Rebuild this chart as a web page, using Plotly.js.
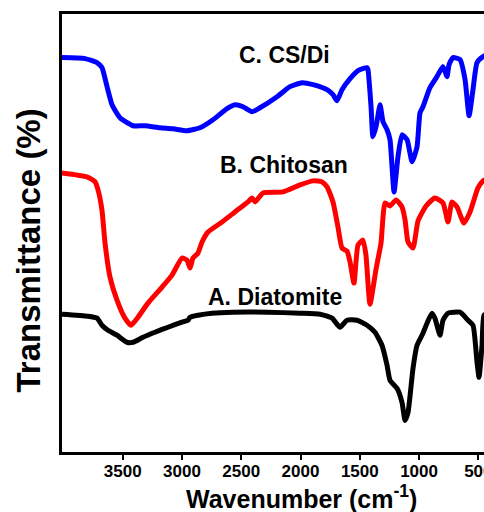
<!DOCTYPE html>
<html>
<head>
<meta charset="utf-8">
<script src="https://cdn.plot.ly/plotly-3.0.1.min.js"></script>
<style>
html,body{margin:0;padding:0;overflow:hidden;background:#fff;}
#chart{width:500px;height:512px;}
</style>
</head>
<body>
<div id="chart"></div>
<script>
// Wavenumbers (cm-1) and relative transmittance (arbitrary units)
const csdiWn = [4012,3818,3717,3675,3632,3590,3523,3413,3312,3185,3076,2958,2848,2738,2620,2553,2485,2409,2342,2198,2089,1987,1894,1776,1726,1692,1650,1582,1515,1439,1431,1405,1389,1363,1329,1304,1270,1245,1211,1178,1144,1101,1059,1017,992,967,908,849,798,764,747,714,655,612,578,545,511,460,410];
const csdiT  = [394,393,389,384,365,347,334,326,326,324,323,321,324,332,343,347,345,340,344,355,365,369,367,362,357,351,362,373,381,384,382,345,315,325,347,330,322,312,260,295,317,312,290,305,339,345,364,375,385,375,387,394,392,372,336,362,389,395,398];

const chitWn = [4012,3801,3733,3708,3675,3649,3607,3548,3481,3430,3371,3287,3168,3084,3000,2958,2932,2907,2865,2831,2780,2662,2553,2443,2409,2384,2316,2148,2004,1894,1818,1776,1726,1684,1650,1608,1582,1549,1515,1473,1448,1414,1363,1321,1287,1245,1194,1144,1118,1093,1051,1009,941,866,798,756,722,680,621,570,503,460,410];
const chitT  = [279,275,270,262,242,209,175,152,134,127,135,149,165,177,194,192,184,194,199,210,220,230,240,250,254,250,259,260,267,271,270,265,250,225,204,201,190,169,207,212,197,148,183,209,249,246,252,245,232,210,204,231,246,254,249,230,250,245,229,240,264,271,274];

const diatWn = [4012,3793,3716,3675,3624,3548,3464,3413,3329,3228,3118,3000,2949,2932,2865,2747,2570,2283,2004,1835,1734,1667,1608,1524,1439,1372,1313,1270,1245,1186,1144,1118,1093,1051,1017,967,933,891,866,823,798,756,655,587,545,511,494,469,452,410];
const diatT  = [138,136,134,127,122,117,110,110,115,120,125,130,132,135,137,139,140,140,139,138,134,125,132,132,127,120,107,87,72,64,50,32,40,84,107,119,129,139,134,117,132,139,140,132,127,90,75,107,137,140];

const seriesNames = ["C. CS/Di", "B. Chitosan", "A. Diatomite"];
const tickVals = [3500,3000,2500,2000,1500,1000,500];

const FONT = "Arial, 'Liberation Sans', Helvetica, sans-serif";
const mk = (x, y, color, name) => ({
  x: x, y: y, type: 'scatter', mode: 'lines', name: name,
  line: {color: color, width: 5, shape: 'spline', smoothing: 0.5},
  hoverinfo: 'skip'
});

const data = [
  mk(diatWn, diatT, '#000000', seriesNames[2]),
  mk(chitWn, chitT, '#ff0000', seriesNames[1]),
  mk(csdiWn, csdiT, '#0000ff', seriesNames[0])
];

const layout = {
  width: 500, height: 512,
  margin: {l: 62, r: 11, t: 14, b: 60},
  paper_bgcolor: '#fff', plot_bgcolor: '#fff',
  showlegend: false,
  font: {family: FONT, color: '#000'},
  xaxis: {
    range: [4012, 410],
    tickvals: tickVals,
    ticktext: tickVals.map(String),
    ticks: 'outside', ticklen: 5, tickwidth: 2, tickcolor: '#000',
    ticklabelstandoff: -3,
    tickfont: {family: FONT, size: 17, weight: 'bold', color: '#000'},
    showline: true, linewidth: 3, linecolor: '#000', mirror: true,
    showgrid: false, zeroline: false
  },
  yaxis: {
    range: [0.5, 437.5],
    showticklabels: false, ticks: '',
    showline: true, linewidth: 3, linecolor: '#000', mirror: true,
    showgrid: false, zeroline: false
  },
  annotations: [
    {text: '<b>' + seriesNames[0] + '</b>', xref: 'paper', yref: 'paper',
     x: (284-62)/427, y: (451.5-55)/437, xanchor: 'center', yanchor: 'middle',
     showarrow: false, font: {family: FONT, size: 23, color: '#000'}},
    {text: '<b>' + seriesNames[1] + '</b>', xref: 'paper', yref: 'paper',
     x: (284-62)/427, y: (451.5-165)/437, xanchor: 'center', yanchor: 'middle',
     showarrow: false, font: {family: FONT, size: 23, color: '#000'}},
    {text: '<b>' + seriesNames[2] + '</b>', xref: 'paper', yref: 'paper',
     x: (275-62)/427, y: (451.5-297)/437, xanchor: 'center', yanchor: 'middle',
     showarrow: false, font: {family: FONT, size: 23, color: '#000'}},
    {text: '<b>Transmittance (%)</b>', xref: 'paper', yref: 'paper',
     x: (28.5-62)/427, y: (451.5-251)/437, xanchor: 'center', yanchor: 'middle',
     textangle: -90, showarrow: false, font: {family: FONT, size: 33, color: '#000'}},
    {text: '<b>Wavenumber (cm<sup>-1</sup>)</b>', xref: 'paper', yref: 'paper',
     x: (301.5-62)/427, y: (451.5-496)/437, xanchor: 'center', yanchor: 'middle',
     showarrow: false, font: {family: FONT, size: 25, color: '#000'}}
  ]
};

Plotly.newPlot('chart', data, layout, {staticPlot: true, displayModeBar: false});
</script>
</body>
</html>
